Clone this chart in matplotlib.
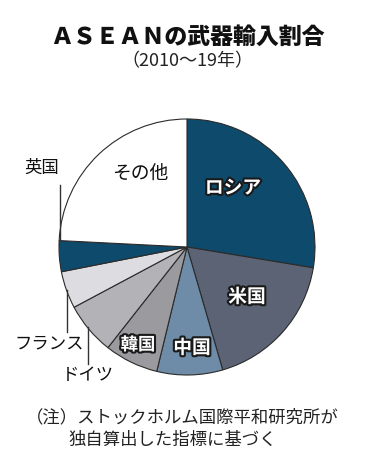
import matplotlib
matplotlib.use('Agg')
import matplotlib.pyplot as plt
import matplotlib.patheffects as pe

plt.rcParams['font.family'] = ['Noto Sans CJK JP', 'DejaVu Sans']

# shares in percent, clockwise from 12 o'clock
countries = ['ロシア', '米国', '中国', '韓国', 'ドイツ', 'フランス', '英国', 'その他']
shares = [27.6, 17.9, 8.3, 6.8, 6.6, 4.7, 3.9, 24.2]
colors = ['#0e4a6b', '#5b6374', '#6e8ca7', '#9b9b9f', '#b3b3b7', '#dddde1', '#0e4a6b', '#ffffff']

W, H = 375, 461
fig = plt.figure(figsize=(W / 100, H / 100), dpi=100)
ax = fig.add_axes([0, 0, 1, 1])

cx, cy, r = 187, H - 247, 128
ax.pie(shares, colors=colors, startangle=90, counterclock=False,
       center=(cx, cy), radius=r,
       wedgeprops=dict(edgecolor='#2b2b2b', linewidth=0.8))
ax.set_xlim(0, W)
ax.set_ylim(0, H)
ax.set_aspect('equal')
ax.axis('off')

def Y(y):
    return H - y

outline = [pe.withStroke(linewidth=3, foreground='#1a1a1a')]

# labels inside the pie
ax.text(233, Y(188), 'ロシア', color='white', fontsize=13.5, fontweight='bold',
        ha='center', va='center', path_effects=outline)
ax.text(140, Y(173), 'その他', color='#111111', fontsize=13.5,
        ha='center', va='center')
ax.text(247, Y(297), '米国', color='white', fontsize=13.5, fontweight='bold',
        ha='center', va='center', path_effects=outline)
ax.text(192, Y(348), '中国', color='white', fontsize=13.5, fontweight='bold',
        ha='center', va='center', path_effects=outline)
ax.text(138, Y(345), '韓国', color='white', fontsize=12.5, fontweight='bold',
        ha='center', va='center', path_effects=outline)

# labels outside with leader lines
ax.text(42, Y(168), '英国', color='#111111', fontsize=12.5, ha='center', va='center')
ax.plot([60, 60], [Y(185), Y(240)], color='#333333', lw=1)
ax.text(49, Y(343), 'フランス', color='#111111', fontsize=12.5, ha='center', va='center')
ax.plot([67, 67], [Y(290), Y(332)], color='#333333', lw=1)
ax.text(88, Y(375), 'ドイツ', color='#111111', fontsize=12.5, ha='center', va='center')
ax.plot([88, 88], [Y(327), Y(364)], color='#333333', lw=1)

# title
ax.text(187, Y(37), 'ＡＳＥＡＮの武器輸入割合', fontsize=16.5, fontweight='heavy',
        ha='center', va='center', color='#111111')
ax.text(187, Y(61), '（2010〜19年）', fontsize=13, ha='center', va='center',
        color='#222222')

# note
ax.text(26, Y(417), '（注）ストックホルム国際平和研究所が', fontsize=12.5,
        ha='left', va='center', color='#222222')
ax.text(68, Y(440), '独自算出した指標に基づく', fontsize=12.5,
        ha='left', va='center', color='#222222')

fig.savefig('out.png', dpi=100, facecolor='white')
